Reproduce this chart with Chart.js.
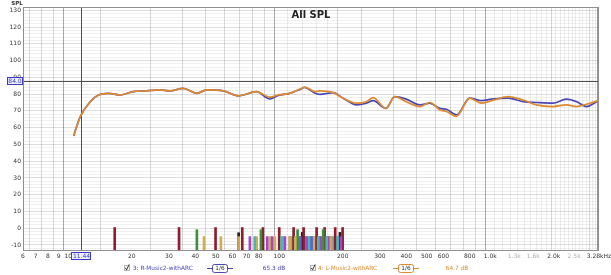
<!DOCTYPE html>
<html>
<head>
<meta charset="utf-8">
<script src="https://cdn.jsdelivr.net/npm/chart.js@4.4.1/dist/chart.umd.min.js"></script>
<style>
  html, body { margin: 0; padding: 0; background: #fff; }
  #wrap { width: 611px; height: 275px; position: relative; }
</style>
</head>
<body>
<div id="wrap"><canvas id="spl"></canvas></div>
<script>
// shared frequency points (Hz) for both traces
const freqs = [10.6, 11.4, 12.7, 13.9, 15.5, 17.6, 20.3, 23.5, 27.2, 30.3, 35.1, 40.6, 45.3, 54.3, 64, 78,
    90.3, 98.9, 112, 125, 132, 137, 148, 156, 180, 201, 233, 259, 279, 320, 353, 400, 465, 518, 577, 620,
    692, 800, 909, 1014, 1220, 1432, 1655, 1984, 2298, 2572, 2863, 3260];

// 3: R-Music2-withARC
const rSpl = [55.1, 66.6, 75.5, 79.5, 80.5, 79.5, 81.5, 82.0, 82.5, 81.9, 83.5, 80.5, 82.5, 82.0, 79.0, 81.5,
    77.2, 79.2, 80.5, 82.7, 84.0, 83.2, 80.5, 79.9, 80.9, 77.6, 73.6, 74.6, 76.1, 71.5, 78.5, 77.0, 73.6, 74.6, 71.5, 71.0,
    67.6, 77.6, 76.1, 77.0, 77.6, 75.5, 75.0, 74.6, 77.0, 75.5, 72.6, 76.1];

// 4: L-Music2-withARC
const lSpl = [55.1, 66.6, 75.5, 79.5, 80.5, 79.5, 81.5, 82.0, 82.5, 81.9, 83.5, 80.5, 82.5, 82.0, 79.0, 81.5,
    78.2, 79.5, 80.5, 82.9, 84.1, 83.5, 81.5, 81.9, 80.9, 77.6, 74.6, 75.5, 77.9, 71.5, 78.5, 75.5, 72.6, 75.0, 70.6, 69.6,
    66.8, 77.6, 74.6, 76.1, 78.5, 76.5, 73.6, 72.6, 73.6, 72.6, 74.0, 76.1];

// markers along the bottom: frequency, top level (dB), group
const markFreqs = [112, 115, 118, 121, 124, 127, 130, 133, 136, 139, 142, 145, 148, 151, 154, 157, 160, 163, 166,
    169, 172, 175, 178, 181, 184, 187, 190, 193, 196, 199,
    64.2, 128.5, 194.0,
    16.6, 33.5, 49.9, 66.8, 83.7, 100, 117, 130.5, 150.4, 164.1, 184.2, 199.7,
    40.7, 81.9, 122.2, 161.6,
    44.0, 52.9, 64.2, 78.2, 90.3, 95.4, 104.5, 112.4, 119.1, 145.6, 174.4,
    72.6, 87.7, 92.6, 106.4, 134.8, 157.1, 170.7, 196.1,
    76.5, 102.7, 138.8, 153, 167.8, 189.1,
    126.0, 142.4];
const markTops = [-5, -5, -5, -5, -5, -5, -5, -5, -5, -5, -5, -5, -5, -5, -5, -5, -5, -5, -5,
    -5, -5, -5, -5, -5, -5, -5, -5, -5, -5, -5,
    -2.7, -2.5, -2.5,
    0.4, 0.4, 0.4, 0.4, 0.4, 0.4, 0.4, 0.4, 0.4, 0.4, 0.4, 0.4,
    -0.9, -0.9, -0.9, -0.9,
    -5, -5, -5, -5, -5, -5, -5, -5, -5, -5, -5,
    -5, -5, -5, -5, -5, -5, -5, -5,
    -5, -5, -5, -5, -5, -5,
    -5, -5];
const markGroups = [7, 7, 7, 7, 7, 7, 7, 7, 7, 7, 7, 7, 7, 7, 7, 7, 7, 7, 7,
    7, 7, 7, 7, 7, 7, 7, 7, 7, 7, 7,
    3, 3, 3,
    0, 0, 0, 0, 0, 0, 0, 0, 0, 0, 0, 0,
    1, 1, 1, 1,
    2, 2, 2, 2, 2, 2, 2, 2, 2, 2, 2,
    4, 4, 4, 4, 4, 4, 4, 4,
    5, 5, 5, 5, 5, 5,
    6, 6];

const xTickValues = [6.1, 7, 8, 9, 10, 20, 30, 40, 50, 60, 70, 80, 100, 200, 300, 400, 500, 600, 800,
    1000, 1300, 1600, 2000, 2500, 3280];
const xTickLabels = ['6', '7', '8', '9', '10', '20', '30', '40', '50', '60', '70', '80', '100', '200', '300',
    '400', '500', '600', '800', '1.0k', '1.3k', '1.6k', '2.0k', '2.5k', '3.28kHz'];
const fadedLabels = ['1.3k', '1.6k', '2.5k'];

const yTickValues = [-10, 0, 10, 20, 30, 40, 50, 60, 70, 80, 90, 100, 110, 120, 130];

const chartTitle = 'All SPL';
const yTitle = 'SPL';
const cursorFreq = 11.44;
const cursorLevel = 87.7;
const cursorFreqText = '11.44';
const cursorLevelText = '84.0';

const legendNames = ['3: R-Music2-withARC', '4: L-Music2-withARC'];
const legendSmoothing = ['1/6', '1/6'];
const legendLevels = ['65.3 dB', '64.7 dB'];

// ---- styling ----
const blue = '#4a47b3';
const orange = '#de8a2f';
const groupColors = ['#8c1c2e', '#3e8e3e', '#cdae55', '#202020', '#a844c4', '#44b8b4', '#5566d6', '#9b9b9b'];
const FONT = 'DejaVu Sans';

// gridline positions on the frequency axis
let gridFreqs = [6.1];
[1, 10, 100, 1000].forEach(function (d) {
    for (let m = 10; m < 100; m++) {
        if (m % 10 !== 0) {
            if (d === 1000 && m < 40) { /* fine */ }
            else if (d === 1000 && m % 5 === 0) { /* fine */ }
            else if (d === 100 && m < 20 && m % 2 === 0) { /* fine */ }
            else continue;
        }
        const v = Math.round(d * m / 10 * 100) / 100;
        if (v > 6.1 && v < 3280) gridFreqs.push(v);
    }
});
gridFreqs.push(3280);

let yGrid = [];
for (let v = -12; v <= 130; v += 2) yGrid.push(v);

function labelFor(v) {
    for (let i = 0; i < xTickValues.length; i++) {
        if (Math.abs(xTickValues[i] - v) < 1e-6) return xTickLabels[i];
    }
    return '';
}

function xGridColor(v) {
    if (v === 6.1 || v === 3280) return 'rgba(0,0,0,0.4)';
    if (v === 10 || v === 100 || v === 1000) return 'rgba(0,0,0,0.33)';
    const d = Math.pow(10, Math.floor(Math.log10(v) + 1e-9));
    const k = v / d;
    if (Math.abs(k - Math.round(k)) < 1e-6) return 'rgba(0,0,0,0.15)';
    return 'rgba(0,0,0,0.07)';
}

const lineData = (vals) => freqs.map((f, i) => ({ x: f, y: vals[i] }));
const barData = markFreqs.map((f, i) => ({ x: f, y: [-13, markTops[i]] }));
const barColors = markGroups.map(g => groupColors[g]);

function box(ctx, x1, y1, x2, y2, stroke, fill) {
    ctx.fillStyle = fill;
    ctx.fillRect(x1, y1, x2 - x1, y2 - y1);
    ctx.strokeStyle = stroke;
    ctx.lineWidth = 1;
    ctx.strokeRect(x1 + 0.5, y1 + 0.5, x2 - x1 - 1, y2 - y1 - 1);
}

const extras = {
    id: 'extras',
    beforeDatasetsDraw(chart) {
        const ctx = chart.ctx, a = chart.chartArea;
        const cx = Math.round(chart.scales.x.getPixelForValue(cursorFreq)) + 0.5;
        const cy = Math.round(chart.scales.y.getPixelForValue(cursorLevel)) + 0.5;
        ctx.save();
        ctx.strokeStyle = '#505050';
        ctx.lineWidth = 1;
        ctx.beginPath();
        ctx.moveTo(cx, a.top); ctx.lineTo(cx, a.bottom);
        ctx.moveTo(a.left, cy); ctx.lineTo(a.right, cy);
        ctx.stroke();
        ctx.restore();
    },
    afterDraw(chart) {
        const ctx = chart.ctx, a = chart.chartArea;
        ctx.save();
        // frame
        ctx.strokeStyle = '#8f8f8f';
        ctx.lineWidth = 1;
        ctx.strokeRect(a.left + 0.5, a.top + 0.5, a.right - a.left - 1, a.bottom - a.top);

        ctx.textBaseline = 'middle';
        ctx.textAlign = 'center';
        ctx.fillStyle = '#222';
        ctx.font = 'bold 10px "' + FONT + '"';
        ctx.fillText(chartTitle, (a.left + a.right) / 2, 15);
        ctx.font = 'bold 5.5px "' + FONT + '"';
        ctx.fillStyle = '#333';
        ctx.fillText(yTitle, 17, 4);

        // cursor read-outs
        const cx = chart.scales.x.getPixelForValue(cursorFreq);
        const cy = chart.scales.y.getPixelForValue(cursorLevel);
        ctx.font = '6px "' + FONT + '"';
        box(ctx, 7, Math.round(cy) - 4, 23, Math.round(cy) + 4, '#3b3bc8', '#eef0ff');
        ctx.fillStyle = '#3b3bc8';
        ctx.fillText(cursorLevelText, 15, Math.round(cy) + 0.5);
        box(ctx, Math.round(cx) - 10, 252, Math.round(cx) + 10, 260, '#3b3bc8', '#eef0ff');
        ctx.fillStyle = '#3b3bc8';
        ctx.fillText(cursorFreqText, Math.round(cx) + 0.5, 256);

        // legend row
        const rows = [
            { check: 124, text: 133, smooth: 220, level: 274, color: blue },
            { check: 310, text: 318, smooth: 406, level: 457, color: orange }
        ];
        const ly = 268;
        ctx.font = '5.8px "' + FONT + '"';
        rows.forEach(function (r, i) {
            box(ctx, r.check, ly - 3, r.check + 6, ly + 3, '#b5b5b5', '#fbfbfb');
            ctx.strokeStyle = '#333';
            ctx.beginPath();
            ctx.moveTo(r.check + 1.2, ly - 0.2);
            ctx.lineTo(r.check + 2.6, ly + 1.8);
            ctx.lineTo(r.check + 5.2, ly - 3.6);
            ctx.stroke();

            ctx.fillStyle = r.color;
            ctx.textAlign = 'left';
            ctx.fillText(legendNames[i], r.text, ly);

            ctx.strokeStyle = r.color;
            ctx.lineWidth = 1;
            ctx.beginPath();
            ctx.moveTo(r.smooth - 13, ly + 0.5); ctx.lineTo(r.smooth - 8, ly + 0.5);
            ctx.moveTo(r.smooth + 8, ly + 0.5); ctx.lineTo(r.smooth + 13, ly + 0.5);
            ctx.stroke();
            ctx.beginPath();
            ctx.roundRect(r.smooth - 7.5, ly - 3.5, 15, 8, 2);
            ctx.fillStyle = '#fff';
            ctx.fill();
            ctx.stroke();
            ctx.fillStyle = '#333';
            ctx.textAlign = 'center';
            ctx.fillText(legendSmoothing[i], r.smooth, ly + 0.5);

            ctx.fillStyle = r.color;
            ctx.fillText(legendLevels[i], r.level, ly);
        });
        ctx.restore();
    }
};

new Chart(document.getElementById('spl'), {
    type: 'line',
    data: {
        datasets: [{
            label: legendNames[1],
            data: lineData(lSpl),
            borderColor: orange,
            borderWidth: 1.7,
            pointRadius: 0,
            cubicInterpolationMode: 'monotone',
            order: 0
        }, {
            label: legendNames[0],
            data: lineData(rSpl),
            borderColor: blue,
            borderWidth: 1.7,
            pointRadius: 0,
            cubicInterpolationMode: 'monotone',
            order: 1
        }, {
            type: 'bar',
            label: 'markers',
            data: barData,
            backgroundColor: barColors,
            borderWidth: 0,
            barThickness: 2,
            order: 3
        }]
    },
    options: {
        responsive: true,
        maintainAspectRatio: false,
        animation: false,
        layout: { padding: { top: 7, right: 12, left: 0, bottom: 0 } },
        plugins: {
            legend: { display: false },
            tooltip: { enabled: false },
            title: { display: false }
        },
        scales: {
            x: {
                type: 'logarithmic',
                min: 6.1,
                max: 3280,
                afterBuildTicks: s => { s.ticks = gridFreqs.map(v => ({ value: v })); },
                afterFit: s => { s.height = 25; s.paddingLeft = 0; s.paddingRight = 12; },
                border: { display: false },
                grid: { color: c => xGridColor(c.tick ? c.tick.value : 0), drawTicks: false },
                ticks: {
                    autoSkip: false,
                    maxRotation: 0,
                    minRotation: 0,
                    padding: 3,
                    font: { family: FONT, size: 6 },
                    color: c => (c.tick && fadedLabels.includes(c.tick.label)) ? '#b0b0b0' : '#333',
                    callback: v => labelFor(v)
                }
            },
            y: {
                min: -13,
                max: 132,
                afterBuildTicks: s => { s.ticks = yGrid.map(v => ({ value: v })); },
                afterFit: s => { s.width = 23; },
                border: { display: false },
                grid: { color: c => (c.tick && c.tick.value % 10 === 0) ? 'rgba(0,0,0,0.13)' : 'rgba(0,0,0,0.06)', drawTicks: false },
                ticks: {
                    autoSkip: false,
                    padding: 2,
                    font: { family: FONT, size: 6 },
                    color: '#333',
                    callback: v => yTickValues.includes(v) ? String(v) : ''
                }
            }
        }
    },
    plugins: [extras]
});
</script>
</body>
</html>
